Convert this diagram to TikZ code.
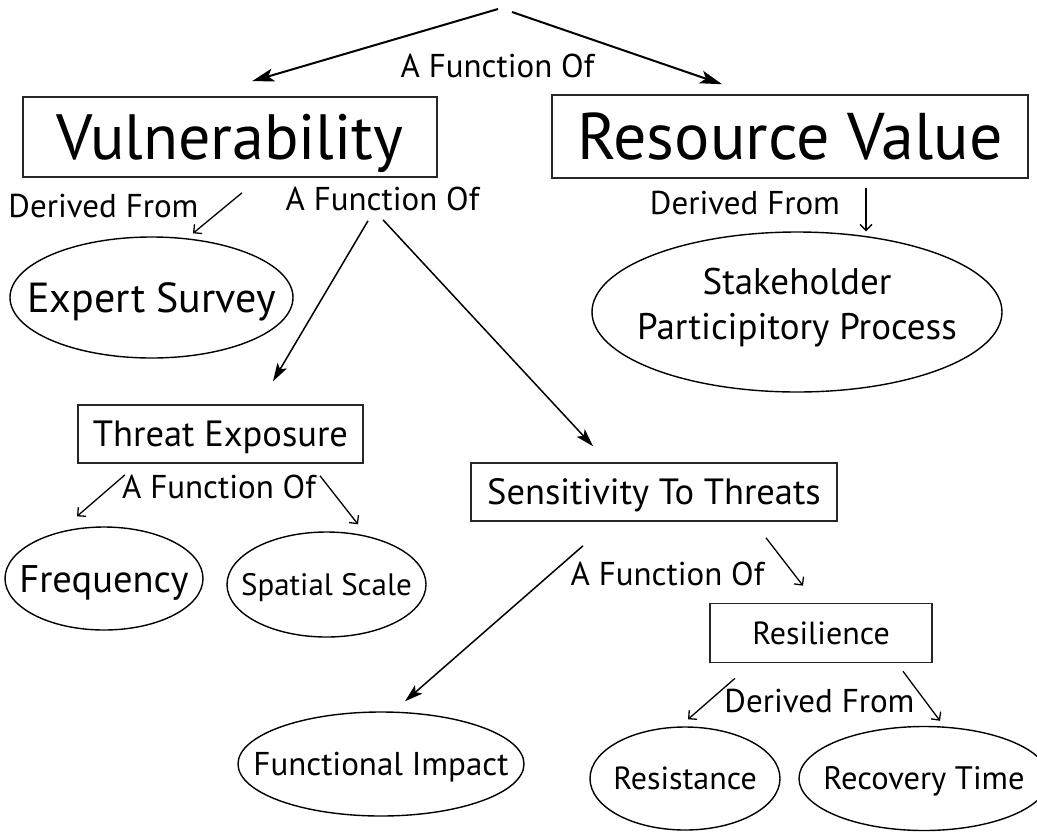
\documentclass[tikz,border=0pt]{standalone}
\usepackage{fontspec}
\setmainfont{PT Sans}
\usetikzlibrary{arrows.meta,shapes.geometric,calc}
\newcommand\fsz[1]{\fontsize{#1}{#1}\selectfont}
\begin{document}
\begin{tikzpicture}[x=1pt,y=-1pt,
  box/.style={draw=black!85,line width=1.6pt,rectangle,inner sep=0pt,text depth=0pt},
  oval/.style={draw,line width=1.4pt,ellipse,inner xsep=-200pt,inner ysep=-200pt,text depth=0pt},
  lbl/.style={inner sep=0pt,anchor=base,font=\fsz{33}},
  big/.style={line width=1.5pt,-{Stealth[length=18pt,width=11pt,inset=4pt]}},
  huge/.style={line width=2pt,-{Stealth[length=22pt,width=13pt,inset=5pt]}},
  small/.style={line width=1.3pt,-{Straight Barb[length=6pt,width=12pt]}},
]
\useasboundingbox (0,0) rectangle (1037,831);
% main boxes
\node[box,minimum width=414pt,minimum height=80pt,font=\fsz{64},text height=45pt] (vul) at (230,137) {Vulnerability};
\node[box,minimum width=476pt,minimum height=83pt,font=\fsz{66},text height=46pt] (res) at (790,136.5) {Resource Value};
\node[oval,minimum width=283pt,minimum height=121pt,font=\fsz{42},text height=29.4pt] (exp) at (151.5,297.5) {Expert Survey};
\node[oval,minimum width=410pt,minimum height=160pt,font=\fontsize{37}{45}\selectfont,text height=71pt,text depth=17pt,align=center] (stk) at (797,312) {Stakeholder\\Participitory Process};
\node[box,minimum width=285pt,minimum height=58pt,font=\fsz{36.5},text height=25.5pt] (te) at (220.5,434) {Threat Exposure};
\node[box,minimum width=366pt,minimum height=58pt,font=\fsz{36.5},text height=25.5pt] (sen) at (654,492) {Sensitivity To Threats};
\node[box,minimum width=222pt,minimum height=59pt,font=\fsz{32},text height=22.4pt] (resl) at (821,633) {Resilience};
\node[oval,minimum width=198pt,minimum height=103pt,font=\fsz{38.5},text height=27pt] (frq) at (104,578.5) {Frequency};
\node[oval,minimum width=199pt,minimum height=105pt,font=\fsz{31},text height=21.7pt] (spa) at (326.5,584.5) {Spatial Scale};
\node[oval,minimum width=286pt,minimum height=104pt,font=\fsz{33},text height=23pt] (fun) at (381,764) {Functional Impact};
\node[oval,minimum width=190pt,minimum height=103pt,font=\fsz{32},text height=22.4pt] (rst) at (685,778.5) {Resistance};
\node[oval,minimum width=250pt,minimum height=104pt,font=\fsz{32.5},text height=22.8pt] (rec) at (924,778.5) {Recovery Time};
% connector labels
\node[lbl] (l1) at (497.5,77) {A Function Of};
\node[lbl] (l2) at (103.5,217) {Derived From};
\node[lbl] (l3) at (382.5,210) {A Function Of};
\node[lbl] (l4) at (745,214) {Derived From};
\node[lbl] (l5) at (219,498) {A Function Of};
\node[lbl] (l6) at (667.5,585) {A Function Of};
\node[lbl] (l7) at (819.5,712) {Derived From};
% connectors
\coordinate (rootL) at (498,9);
\coordinate (rootR) at (512,12);
\draw[huge] (rootL) -- ($(vul.north)+(22,-15)$);
\draw[huge] (rootR) -- ($(res.north)+(-68,-10)$);
\draw[small] ($(vul.south)+(12,15)$) -- ($(exp.north)+(41.5,-3)$);
\draw[big] ($(vul.south)+(138,43)$) -- ($(te.north)+(52.5,-23)$);
\draw[big] ($(vul.south)+(153,42)$) -- ($(sen.north)+(-61,-16)$);
\draw[small] ($(res.south)+(76,9)$) -- ($(stk.north)+(69,0)$);
\draw[small] ($(te.south)+(-95.5,11)$) -- ($(frq.north)+(-27,-10)$);
\draw[small] ($(te.south)+(99.5,12)$) -- ($(spa.north)+(31.5,-7)$);
\draw[big] ($(sen.south)+(-71,24)$) -- ($(fun.north)+(24,-10)$);
\draw[small] ($(sen.south)+(112,16)$) -- ($(resl.north)+(-18,-17)$);
\draw[small] ($(resl.south)+(-86,15)$) -- ($(rst.north)+(3,-7)$);
\draw[small] ($(resl.south)+(82,8)$) -- ($(rec.north)+(16,-5)$);
\end{tikzpicture}
\end{document}
